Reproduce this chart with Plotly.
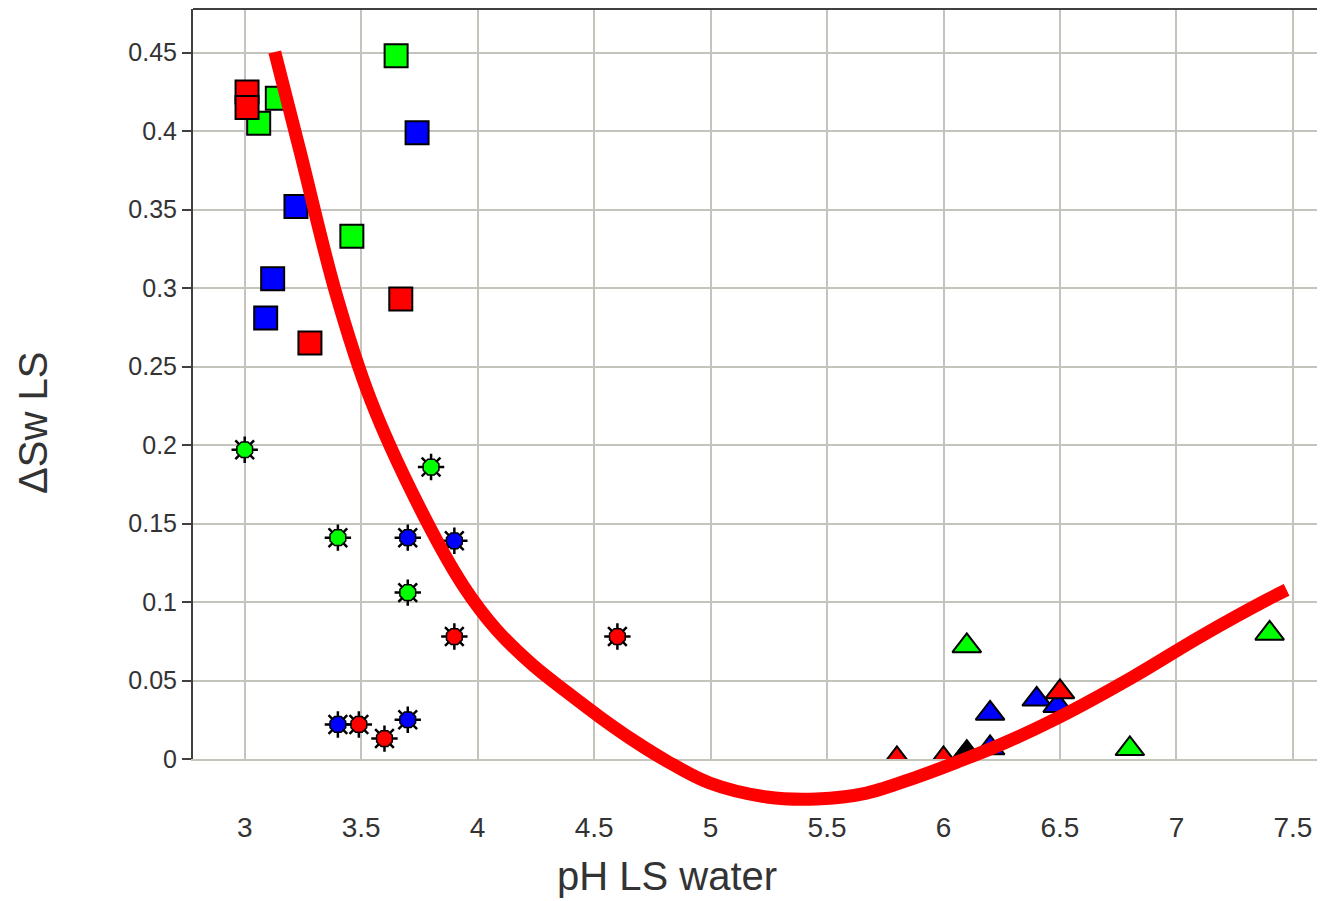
import plotly.graph_objects as go

# ---------------- data ----------------
# squares
green_sq_x = [3.06, 3.14, 3.65, 3.46]
green_sq_y = [0.405, 0.421, 0.448, 0.333]
blue_sq_x = [3.74, 3.22, 3.12, 3.09]
blue_sq_y = [0.399, 0.352, 0.306, 0.281]
red_sq_x = [3.01, 3.01, 3.67, 3.28]
red_sq_y = [0.425, 0.415, 0.293, 0.265]

# stars
green_st_x = [3.0, 3.80, 3.40, 3.70]
green_st_y = [0.197, 0.186, 0.141, 0.106]
blue_st_x = [3.70, 3.90, 3.40, 3.70]
blue_st_y = [0.141, 0.139, 0.022, 0.025]
red_st_x = [3.90, 4.60, 3.49, 3.60]
red_st_y = [0.078, 0.078, 0.022, 0.013]

# triangles
green_tr_x = [6.1, 7.4, 6.8]
green_tr_y = [0.072, 0.080, 0.0065]
blue_tr_x = [6.4, 6.49, 6.2, 6.2]
blue_tr_y = [0.038, 0.034, 0.029, 0.007]
red_tr_x = [5.8, 6.0, 6.08, 6.5]
red_tr_y = [0.0, 0.0, 0.0, 0.0427]
black_tr_x = [6.1]
black_tr_y = [0.004]

# fitted trend curve
fit_x = [3.129, 3.236, 3.391, 3.541, 3.743, 3.936, 4.082, 4.236, 4.382, 4.524,
         4.666, 4.812, 4.996, 5.241, 5.455, 5.670, 5.885, 6.069, 6.241, 6.498,
         6.812, 7.099, 7.387, 7.473]
fit_y = [0.4504, 0.388, 0.2969, 0.2287, 0.1625, 0.1109, 0.0822, 0.0599, 0.0427,
         0.0268, 0.0121, -0.0013, -0.0153, -0.0242, -0.0255, -0.0217, -0.0115,
         -0.0013, 0.0089, 0.0268, 0.0522, 0.0777, 0.1013, 0.1077]

x_ticks = [3, 3.5, 4, 4.5, 5, 5.5, 6, 6.5, 7, 7.5]
y_ticks = [0, 0.05, 0.1, 0.15, 0.2, 0.25, 0.3, 0.35, 0.4, 0.45]

GREEN, BLUE, RED, BLACK = "#00ff00", "#0000ff", "#ff0000", "#000000"
FONT = "Liberation Sans, Arial, sans-serif"
TXT = "#333333"
GRID = "#c4c4bc"

# ---------------- geometry ----------------
W, H = 1317, 893
M_L, M_R, M_T, M_B = 185, 6, 1, 60
X_RANGE = [2.778, 7.612]
Y_TOP = 0.4778
region_h = H - M_T - M_B              # full plotting region (curve may dip below 0)
main_h = 750                          # pixels from y=0 to top
y_dom_bottom = (region_h - main_h) / region_h
px_per_unit = main_h / Y_TOP
y2_bottom = -(region_h - main_h) / px_per_unit

fig = go.Figure()

def squares(x, y, c):
    fig.add_trace(go.Scatter(x=x, y=y, mode="markers", hoverinfo="x+y",
                             marker=dict(symbol="square", size=23, color=c,
                                         line=dict(color="black", width=2))))

def stars(x, y, c):
    fig.add_trace(go.Scatter(x=x, y=y, mode="markers", hoverinfo="skip",
                             marker=dict(symbol="asterisk-open", size=22, color="black",
                                         line=dict(color="black", width=2.5))))
    fig.add_trace(go.Scatter(x=x, y=y, mode="markers", hoverinfo="x+y",
                             marker=dict(symbol="octagon", size=17, color=c,
                                         line=dict(color="black", width=1.5))))

def triangles(x, y, c):
    fig.add_trace(go.Scatter(x=x, y=y, mode="markers", hoverinfo="x+y",
                             marker=dict(symbol="triangle-up", size=25, color=c,
                                         line=dict(color="black", width=2))))

squares(green_sq_x, green_sq_y, GREEN)
squares(blue_sq_x, blue_sq_y, BLUE)
squares(red_sq_x, red_sq_y, RED)
stars(green_st_x, green_st_y, GREEN)
stars(blue_st_x, blue_st_y, BLUE)
stars(red_st_x, red_st_y, RED)
triangles(green_tr_x, green_tr_y, GREEN)
triangles(blue_tr_x, blue_tr_y, BLUE)
triangles(red_tr_x, red_tr_y, RED)
triangles(black_tr_x, black_tr_y, BLACK)

# trend curve on an overlapping, taller subplot with identical scale so it may dip below y=0
fig.add_trace(go.Scatter(x=fit_x, y=fit_y, mode="lines", xaxis="x2", yaxis="y2",
                         line=dict(color=RED, width=13, shape="spline", smoothing=1.0),
                         hoverinfo="skip"))

fig.update_layout(
    width=W, height=H,
    margin=dict(l=M_L, r=M_R, t=M_T, b=M_B),
    paper_bgcolor="white", plot_bgcolor="rgba(0,0,0,0)",
    showlegend=False,
    font=dict(family=FONT, color=TXT),
    shapes=[dict(type="line", xref="paper", yref="paper", x0=0, x1=1, y0=1, y1=1,
                 line=dict(color="#404040", width=2))],
    annotations=[
        dict(text="pH LS water", xref="paper", yref="paper", x=0.421, y=-0.042,
             xanchor="center", yanchor="middle", showarrow=False,
             font=dict(size=40, color=TXT)),
        dict(text="ΔSw LS", xref="paper", yref="paper", x=-0.1421, y=0.5024,
             xanchor="center", yanchor="middle", showarrow=False, textangle=-90,
             font=dict(size=40, color=TXT)),
    ],
    xaxis=dict(
        range=X_RANGE, domain=[0, 1], anchor="y",
        tickvals=x_ticks, ticktext=[f"{v:g}" for v in x_ticks],
        showgrid=True, gridcolor=GRID, gridwidth=2,
        showline=True, linecolor=GRID, linewidth=2, mirror=False,
        zeroline=False, ticks="", ticklabelstandoff=42,
        tickfont=dict(size=28, color=TXT), automargin=False,
    ),
    yaxis=dict(
        range=[0, Y_TOP], domain=[y_dom_bottom, 1], anchor="x",
        tickvals=y_ticks, ticktext=[f"{v:g}" for v in y_ticks],
        showgrid=True, gridcolor=GRID, gridwidth=2,
        showline=True, linecolor="#404040", linewidth=2, mirror=True,
        zeroline=False, ticks="outside", ticklen=9, tickwidth=2, tickcolor="#404040",
        tickfont=dict(size=25, color=TXT), automargin=False,
    ),
    xaxis2=dict(range=X_RANGE, domain=[0, 1], anchor="y2", visible=False,
                showgrid=False, zeroline=False),
    yaxis2=dict(range=[y2_bottom, Y_TOP], domain=[0, 1], anchor="x2", visible=False,
                showgrid=False, zeroline=False),
)

fig.write_html("out.html")
